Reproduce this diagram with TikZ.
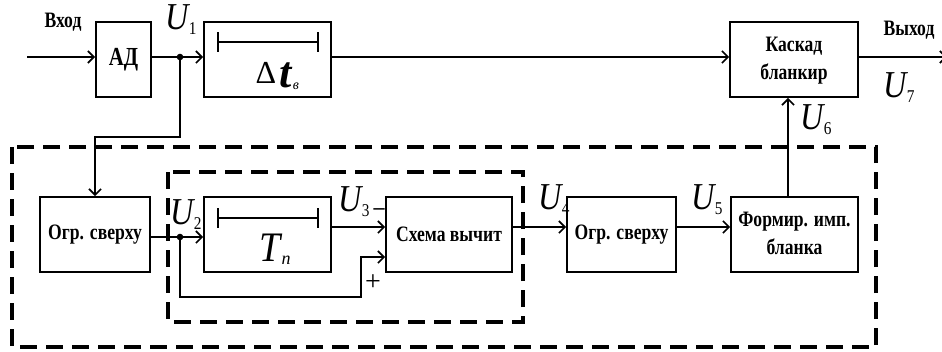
\documentclass[tikz,border=0pt]{standalone}
\usepackage{fontspec}
\setmainfont{Liberation Serif}
\usetikzlibrary{arrows.meta}
\newcommand\cond[1]{\scalebox{0.8}[1]{#1}}
\newcommand\UU[1]{\scalebox{0.85}[1]{{\fontsize{38}{40}\selectfont\itshape U}\raisebox{-5pt}{\fontsize{18}{20}\selectfont #1}}}
\begin{document}
\begin{tikzpicture}[x=1pt,y=-1pt,
 box/.style={draw,line width=1.7pt,minimum height=75pt,inner sep=0pt,
   font=\fontsize{22}{28}\selectfont\bfseries},
 ln/.style={line width=1.7pt},
 arr/.style={ln,-{Straight Barb[length=6pt,width=12pt,line width=1.7pt]}},
 frame/.style={line width=3.5pt,dash pattern=on 17pt off 9pt},
 lab/.style={inner sep=0pt,font=\fontsize{22}{24}\selectfont\bfseries},
 ulab/.style={inner sep=0pt}]
\useasboundingbox (0,0) rectangle (942,351);
% frames
\draw[frame] (12,147) rectangle (876,347);
\draw[frame] (168,172) rectangle (523,322);
% boxes
\node[box,minimum width=55pt,font=\fontsize{26}{28}\selectfont\bfseries] (AD) at (123.5,59.5) {\cond{АД}};
\node[box,minimum width=127pt] (dt) at (267.5,59.5) {};
\node[box,minimum width=128pt] (kask) at (794,59.5) {\cond{\begin{tabular}{@{}c@{}}Каскад\\бланкир\end{tabular}}};
\node[box,minimum width=110pt] (ogr1) at (95,234.5) {\cond{Огр. сверху}};
\node[box,minimum width=127pt] (tn) at (267.5,234.5) {};
\node[box,minimum width=126pt] (sch) at (449,234.5) {\cond{Схема вычит}};
\node[box,minimum width=109pt] (ogr2) at (621.5,234.5) {\cond{Огр. сверху}};
\node[box,minimum width=127pt] (form) at (794.5,234.5) {\cond{\begin{tabular}{@{}c@{}}Формир. имп.\\бланка\end{tabular}}};
% bars inside delay boxes
\draw[ln] (218,32) -- (218,52) (218,42) -- (318,42) (318,32) -- (318,52);
\draw[ln] (218,208) -- (218,228) (218,218) -- (318,218) (318,208) -- (318,228);
\node[inner sep=0pt] (delta) at (266,73) {\fontsize{32}{32}\selectfont Δ};
\node[inner sep=0pt] (tt) at (286,75) {\fontsize{44}{44}\selectfont\bfseries\itshape t};
\node[inner sep=0pt] (tv) at (296,86) {\fontsize{14}{14}\selectfont\itshape в};
\node[inner sep=0pt] (TT) at (270,248) {\scalebox{0.9}[1]{\fontsize{42}{42}\selectfont\itshape T}};
\node[inner sep=0pt] (tn2) at (286,260) {\fontsize{18}{18}\selectfont\itshape n};
% coordinates
\coordinate (inp) at (27,57);
\coordinate (d1) at (180,57);
\coordinate (out) at (947,57);
\coordinate (b1) at (180,137);
\coordinate (d2) at (180,237);
\coordinate (y227) at (0,227);
\coordinate (y257) at (0,257);
\coordinate (c1) at (180,297);
\coordinate (c2) at (361,297);
\coordinate (c3) at (361,257);
\coordinate (x788) at (788,0);
% connectors
\draw[arr] (inp) -- (AD.west |- inp);
\draw[arr] (AD.east |- d1) -- (dt.west |- d1);
\draw[arr] (dt.east |- d1) -- (kask.west |- d1);
\draw[arr] (kask.east |- d1) -- (out);
\draw[arr] (d1) -- (b1) -| (ogr1.north);
\draw[ln] (ogr1.east |- d2) -- (d2);
\draw[arr] (d2) -- (tn.west |- d2);
\draw[arr] (tn.east |- y227) -- (sch.west |- y227);
\draw[arr] (d2) -- (c1) -- (c2) -- (c3) -- (sch.west |- y257);
\draw[arr] (sch.east |- y227) -- (ogr2.west |- y227);
\draw[arr] (ogr2.east |- y227) -- (form.west |- y227);
\draw[arr] (form.north -| x788) -- (kask.south -| x788);
\fill (d1) circle (3.3pt);
\fill (d2) circle (3.3pt);
% labels
\node[lab] (vin) at (63,22) {\cond{Вход}};
\node[lab] (vout) at (909,30) {\cond{Выход}};
\node[ulab] (u1) at (181,20) {\UU{1}};
\node[ulab] (u2) at (186,215) {\UU{2}};
\node[ulab] (u3) at (354,202) {\UU{3}};
\node[inner sep=0pt] (minus) at (379,212) {\fontsize{22}{22}\selectfont\bfseries –};
\node[inner sep=0pt] (plus) at (373,283) {\fontsize{28}{28}\selectfont +};
\node[ulab] (u4) at (554,200) {\UU{4}};
\node[ulab] (u5) at (707,200) {\UU{5}};
\node[ulab] (u6) at (816,120) {\UU{6}};
\node[ulab] (u7) at (899,88) {\UU{7}};
\end{tikzpicture}
\end{document}
